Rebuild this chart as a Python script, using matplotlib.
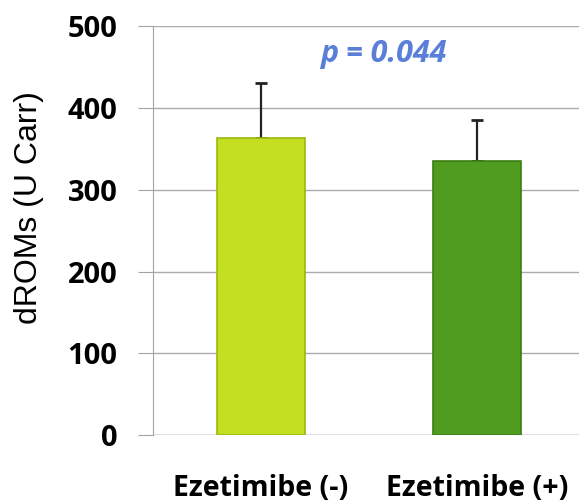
import matplotlib
matplotlib.use('Agg')
import matplotlib.pyplot as plt

groups = ['Ezetimibe (-)', 'Ezetimibe (+)']
means = [363, 335]
sd_upper = [67, 50]
bar_colors = ['#c4df22', '#4f9c1f']
edge_colors = ['#9ab812', '#3c7d14']
y_ticks = [0, 100, 200, 300, 400, 500]

fig = plt.figure(figsize=(5.79, 5.03), dpi=100)
ax = fig.add_axes([0.264, 0.135, 0.746, 0.813])

x = range(len(groups))
ax.bar(x, means, width=0.405, color=bar_colors, edgecolor=edge_colors, linewidth=1.2, zorder=4)
ax.errorbar(x, means, yerr=[[0, 0], sd_upper], fmt='none', ecolor='#222222',
            elinewidth=1.6, capsize=4, capthick=2, zorder=3)

ax.set_xlim(-0.5, 1.5)
ax.set_ylim(0, 500)
ax.set_yticks(y_ticks)
ax.set_yticklabels([str(v) for v in y_ticks], fontsize=21, fontweight='bold', family='Open Sans')
ax.set_xticks(list(x))
ax.set_xticklabels(groups, fontsize=20.5, fontweight='bold', family='Open Sans')
ax.tick_params(axis='x', length=0, pad=28)
ax.tick_params(axis='y', length=11, color='#a8a0a8', pad=14.5)
ax.yaxis.grid(True, color='#b0a8b0', linewidth=1, zorder=0)
for s in ['top', 'right', 'bottom']:
    ax.spines[s].set_visible(False)
ax.spines['left'].set_color('#a8a0a8')
ax.axhline(0, color='#b0a8b0', linewidth=1, zorder=1)

ax.set_ylabel('dROMs (U Carr)', fontsize=23, family='Liberation Sans', va='center')
ax.yaxis.set_label_coords(-0.287, 0.557)
ax.text(0.566, 466, 'p = 0.044', color='#5a7fd8', fontsize=22, fontweight='bold',
        style='italic', family='Open Sans', ha='center', va='center')

fig.savefig('out.png', dpi=100)
